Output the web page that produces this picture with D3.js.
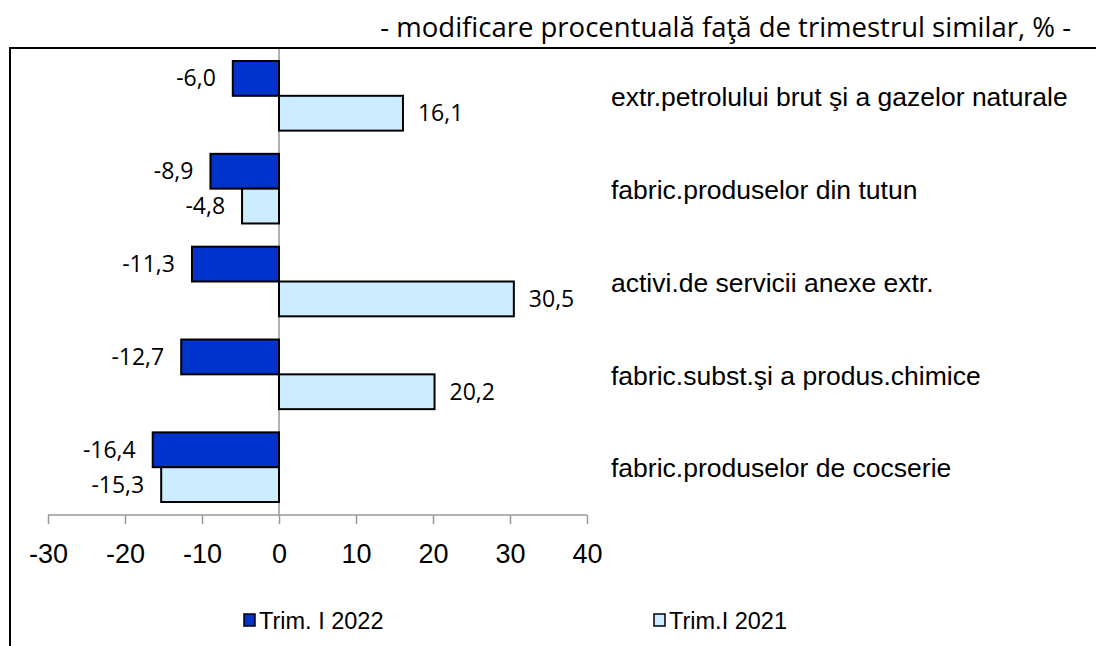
<!DOCTYPE html>
<html>
<head>
<meta charset="utf-8">
<script src="https://cdn.jsdelivr.net/npm/d3@7"></script>
<style>
  body { margin: 0; background: #fff; }
</style>
</head>
<body>
<svg width="1096" height="646"></svg>
<script>
// date
const categories = [
  "extr.petrolului brut şi a gazelor naturale",
  "fabric.produselor din tutun",
  "activi.de servicii anexe extr.",
  "fabric.subst.şi a produs.chimice",
  "fabric.produselor de cocserie"
];
const seriesNames = ["Trim. I 2022", "Trim.I 2021"];
const values2022 = [-6.0, -8.9, -11.3, -12.7, -16.4];
const values2021 = [16.1, -4.8, 30.5, 20.2, -15.3];
const tickValues = [-30, -20, -10, 0, 10, 20, 30, 40];
const colors = ["#0033CC", "#CCECFF"];

const svg = d3.select("svg");

// rama
svg.append("rect")
  .attr("x", 10).attr("y", 48)
  .attr("width", 1100).attr("height", 620)
  .attr("fill", "none")
  .attr("stroke", "#000")
  .attr("stroke-width", 2);

// titlu
svg.append("text")
  .attr("x", 1071).attr("y", 37)
  .attr("text-anchor", "end")
  .attr("font-family", "'Open Sans', 'Noto Sans', sans-serif")
  .attr("font-size", 27.5)
  .attr("fill", "#000")
  .text("- modificare procentuală faţă de trimestrul similar, % -");

const x = d3.scaleLinear().domain([-30, 40]).range([48, 587]);
const y = d3.scaleBand().domain(categories).range([48, 515])
  .paddingInner(0.25).paddingOuter(0.14);
const ySub = d3.scaleBand().domain([0, 1]).range([0, y.bandwidth()]);

const rows = categories.map((c, i) => ({ cat: c, vals: [values2022[i], values2021[i]] }));

// linia zero
svg.append("line")
  .attr("x1", x(0)).attr("x2", x(0))
  .attr("y1", 49).attr("y2", 515)
  .attr("stroke", "#999").attr("stroke-width", 1.5);

// bare
const g = svg.append("g");
rows.forEach(r => {
  r.vals.forEach((v, s) => {
    const y0 = y(r.cat) + ySub(s);
    g.append("rect")
      .attr("x", x(Math.min(0, v)))
      .attr("y", y0)
      .attr("width", Math.abs(x(v) - x(0)))
      .attr("height", ySub.bandwidth())
      .attr("fill", colors[s])
      .attr("stroke", "#000")
      .attr("stroke-width", 2);

    g.append("text")
      .attr("x", v < 0 ? x(v) - 17 : x(v) + 15)
      .attr("y", y0 + ySub.bandwidth() / 2)
      .attr("dy", "0.35em")
      .attr("text-anchor", v < 0 ? "end" : "start")
      .attr("font-family", "'Open Sans', 'Noto Sans', sans-serif")
      .attr("font-size", 23)
      .text(d3.format(".1f")(v).replace(".", ",").replace("−", "-"));
  });

  // eticheta categoriei
  svg.append("text")
    .attr("x", 611)
    .attr("y", y(r.cat) + y.bandwidth() / 2 + 1)
    .attr("dy", "0.35em")
    .attr("font-family", "'Liberation Sans', Arial, sans-serif")
    .attr("font-size", 26.5)
    .text(r.cat);
});

// axa x
const axis = svg.append("g")
  .attr("transform", "translate(0,515)")
  .call(d3.axisBottom(x).tickValues(tickValues).tickSize(9).tickPadding(20)
    .tickFormat(d => String(d)));
axis.select(".domain").attr("stroke", "#999").attr("stroke-width", 1.5)
  .attr("d", "M" + x(-30) + ",0H" + x(40));
axis.selectAll(".tick line").attr("stroke", "#999").attr("stroke-width", 1.5);
axis.selectAll(".tick text")
  .attr("font-family", "'Liberation Sans', Arial, sans-serif")
  .attr("font-size", 27)
  .attr("fill", "#000");

// legenda
const legendX = [244, 654];
seriesNames.forEach((name, i) => {
  const lg = svg.append("g").attr("transform", "translate(" + legendX[i] + ",614)");
  lg.append("rect")
    .attr("x", 0).attr("y", 0).attr("width", 11).attr("height", 12)
    .attr("fill", colors[i]).attr("stroke", "#000").attr("stroke-width", 1.5);
  lg.append("text")
    .attr("x", 15).attr("y", 7)
    .attr("dy", "0.35em")
    .attr("font-family", "'Liberation Sans', Arial, sans-serif")
    .attr("font-size", 23.5)
    .text(name);
});
</script>
</body>
</html>
